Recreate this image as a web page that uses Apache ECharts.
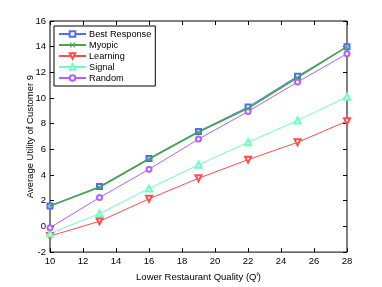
<!DOCTYPE html>
<html><head><meta charset="utf-8">
<script src="https://cdn.jsdelivr.net/npm/echarts@6/dist/echarts.min.js"></script>
<style>html,body{margin:0;padding:0;background:#fff}#c{width:382px;height:287px}</style>
</head><body><div id="c"></div>
<script>
var xValues = [10, 13, 16, 19, 22, 25, 28];
var bestResponse = [1.6, 3.1, 5.3, 7.4, 9.3, 11.7, 14.0];
var myopic = [1.6, 3.05, 5.25, 7.35, 9.2, 11.6, 14.0];
var learning = [-0.75, 0.4, 2.15, 3.75, 5.2, 6.55, 8.2];
var signal = [-0.55, 1.0, 2.95, 4.8, 6.55, 8.25, 10.1];
var random = [-0.1, 2.25, 4.45, 6.8, 8.95, 11.25, 13.45];
var seriesNames = ['Best Response', 'Myopic', 'Learning', 'Signal', 'Random'];

function pairs(arr){ return xValues.map(function(x,i){return [x, arr[i]];}); }
var font = 'Liberation Sans, Arial, sans-serif';
var xMark = 'path://M0,1.2L1.2,0L5,3.8L8.8,0L10,1.2L6.2,5L10,8.8L8.8,10L5,6.2L1.2,10L0,8.8L3.8,5Z';

var chart = echarts.init(document.getElementById('c'), null, {renderer:'canvas'});
var tickStyle = {show:true, inside:true, length:4, lineStyle:{color:'#000', width:1}};
chart.setOption({
  animation:false,
  backgroundColor:'#fff',
  textStyle:{fontFamily:font},
  grid:{left:50, right:35, top:21, bottom:32, show:true, borderColor:'#000', borderWidth:1, backgroundColor:'transparent'},
  legend:{
    left:54, top:26, orient:'vertical', itemWidth:27, itemHeight:7, itemGap:1,
    borderColor:'#000', borderWidth:1, padding:[3,4,3,4], backgroundColor:'#fff',
    textStyle:{fontSize:9.2, lineHeight:10, color:'#000', fontFamily:font, padding:[0,0,0,-2]},
    data:seriesNames
  },
  xAxis:[
    {type:'value', min:10, max:28, interval:2, position:'bottom',
     axisLine:{show:false, onZero:false}, splitLine:{show:false}, axisTick:tickStyle,
     axisLabel:{color:'#000', fontSize:9.5, margin:4, fontFamily:font},
     name:'Lower Restaurant Quality (Q{sup|l})', nameLocation:'middle', nameGap:15,
     nameTextStyle:{color:'#000', fontSize:9.5, fontFamily:font, rich:{sup:{fontSize:6, verticalAlign:'top', padding:[0,0,6,0], color:'#000'}}}},
    {type:'value', min:10, max:28, interval:2, position:'top',
     axisLine:{show:false, onZero:false}, splitLine:{show:false}, axisTick:tickStyle, axisLabel:{show:false}}
  ],
  yAxis:[
    {type:'value', min:-2, max:16, interval:2, position:'left',
     axisLine:{show:false, onZero:false}, splitLine:{show:false}, axisTick:tickStyle,
     axisLabel:{color:'#000', fontSize:9.5, margin:4, fontFamily:font},
     name:'Average Utility of Customer 9', nameLocation:'middle', nameGap:15, nameRotate:90, nameMoveOverlap:false,
     nameTextStyle:{color:'#000', fontSize:9.5, fontFamily:font}},
    {type:'value', min:-2, max:16, interval:2, position:'right',
     axisLine:{show:false, onZero:false}, splitLine:{show:false}, axisTick:tickStyle, axisLabel:{show:false}}
  ],
  series:[
    {name:seriesNames[0], type:'line', data:pairs(bestResponse), symbol:'emptyRect', symbolSize:5,
     lineStyle:{color:'#4f6dff', width:1}, itemStyle:{color:'#4f6dff', borderWidth:0.8}, z:3},
    {name:seriesNames[1], type:'line', data:pairs(myopic), symbol:xMark, symbolSize:4,
     lineStyle:{color:'#45a845', width:1.6}, itemStyle:{color:'#45a845'}, z:4},
    {name:seriesNames[2], type:'line', data:pairs(learning), symbol:'emptyTriangle', symbolRotate:180, symbolSize:6,
     lineStyle:{color:'#ff4d4d', width:1}, itemStyle:{color:'#ff4d4d', borderWidth:0.8}},
    {name:seriesNames[3], type:'line', data:pairs(signal), symbol:'emptyTriangle', symbolSize:6,
     lineStyle:{color:'#6dffc0', width:1}, itemStyle:{color:'#6dffc0', borderWidth:0.8}},
    {name:seriesNames[4], type:'line', data:pairs(random), symbol:'emptyCircle', symbolSize:5,
     lineStyle:{color:'#b060ff', width:1}, itemStyle:{color:'#b060ff', borderWidth:0.8}}
  ]
});
</script></body></html>
